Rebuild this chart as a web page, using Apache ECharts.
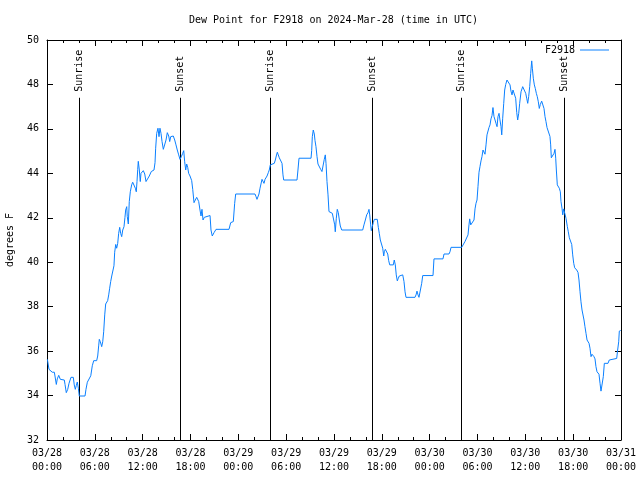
<!DOCTYPE html>
<html>
<head>
<meta charset="utf-8">
<script src="https://cdn.jsdelivr.net/npm/echarts@6/dist/echarts.min.js"></script>
<style>html,body{margin:0;padding:0;background:#fff}#c{width:640px;height:480px}</style>
</head>
<body>
<div id="c"></div>
<script>
// hours since 2024-03-28 00:00 UTC, dew point (F)
const dewPoint = [
[0.05,35.63],[0.16,35.63],[0.25,35.18],[0.44,35.12],[0.66,35.05],[0.92,35.05],[1.0,34.88],[1.17,34.5],[1.29,34.75],[1.47,34.91],[1.67,34.73],[1.84,34.7],[2.17,34.7],[2.26,34.5],[2.42,34.13],[2.6,34.28],[2.76,34.55],[3.01,34.82],[3.3,34.82],[3.42,34.48],[3.55,34.28],[3.68,34.46],[3.8,34.61],[3.93,34.33],[4.05,33.98],[4.77,33.98],[4.89,34.28],[5.06,34.6],[5.31,34.62],[5.49,34.89],[5.68,35.34],[5.86,35.57],[6.23,35.57],[6.36,35.78],[6.49,36.27],[6.56,36.53],[6.69,36.42],[6.86,36.2],[6.99,36.42],[7.11,36.87],[7.24,37.63],[7.36,38.12],[7.61,38.27],[7.74,38.53],[7.86,38.83],[7.99,39.13],[8.12,39.38],[8.28,39.43],[8.40,39.84],[8.49,40.45],[8.62,40.8],[8.74,40.63],[8.87,40.85],[8.99,41.3],[9.12,41.57],[9.24,41.3],[9.37,41.15],[9.50,41.45],[9.66,41.6],[9.78,42.02],[9.87,42.35],[10.0,42.5],[10.07,42.05],[10.2,41.72],[10.32,42.73],[10.45,43.17],[10.62,43.48],[10.75,43.6],[10.95,43.6],[11.08,43.33],[11.2,43.17],[11.29,43.63],[11.38,44.18],[11.45,44.54],[11.58,44.15],[11.7,43.63],[11.79,44.0],[12.08,44.12],[12.26,43.97],[12.42,43.63],[12.67,43.63],[12.83,43.88],[13.08,44.08],[13.42,44.15],[13.55,44.48],[13.63,45.13],[13.76,45.8],[13.92,46.03],[14.05,45.65],[14.17,46.03],[14.3,45.8],[14.43,45.43],[14.59,45.08],[14.8,45.08],[14.93,45.5],[15.09,45.83],[15.27,45.68],[15.39,45.43],[15.52,45.65],[15.68,45.72],[15.84,45.68],[16.02,45.5],[16.18,45.28],[16.34,45.05],[16.52,44.83],[16.68,44.63],[16.85,44.75],[17.02,44.9],[17.15,45.02],[17.27,44.52],[17.4,44.15],[17.52,44.42],[17.65,44.27],[17.77,44.0],[17.94,43.88],[18.15,43.67],[18.28,43.28],[18.44,42.68],[18.6,42.8],[18.78,42.92],[18.9,42.98],[19.03,42.73],[19.19,42.35],[19.32,42.08],[19.44,42.38],[19.57,41.9],[19.73,42.02],[19.91,42.1],[20.45,42.1],[20.57,41.45],[20.73,41.18],[20.95,41.33],[21.2,41.48],[22.83,41.48],[23.04,41.78],[23.37,41.83],[23.54,42.65],[23.67,43.07],[26.09,43.07],[26.22,42.95],[26.34,42.83],[26.47,42.74],[26.59,43.07],[26.72,43.33],[26.84,43.25],[26.97,43.73],[27.09,43.78],[27.22,43.55],[27.35,43.73],[27.47,43.67],[27.6,43.88],[27.76,44.03],[27.88,44.15],[28.01,44.38],[28.22,44.45],[28.51,44.45],[28.64,44.6],[28.76,44.78],[28.89,44.95],[29.01,44.83],[29.14,44.7],[29.35,44.7],[29.48,44.45],[29.6,43.93],[29.69,43.7],[31.36,43.7],[31.48,44.15],[31.61,44.68],[33.12,44.68],[33.2,45.02],[33.28,45.65],[33.4,45.95],[33.53,45.77],[33.62,45.47],[33.74,45.2],[33.87,44.75],[33.99,44.42],[34.16,44.38],[34.33,44.18],[34.49,44.08],[34.66,44.12],[34.78,44.63],[34.91,44.83],[35.0,44.45],[35.12,43.63],[35.25,43.03],[35.37,42.28],[35.62,42.23],[35.79,42.2],[36.0,42.13],[36.09,41.68],[36.16,41.37],[36.29,41.98],[36.41,42.38],[36.54,42.23],[36.67,41.9],[36.79,41.63],[36.97,41.45],[39.6,41.45],[39.76,41.68],[39.93,41.9],[40.1,42.13],[40.26,42.23],[40.39,42.38],[40.48,42.13],[40.6,41.68],[40.68,41.42],[40.8,41.6],[40.93,41.78],[41.06,41.93],[41.27,41.98],[41.43,41.93],[41.56,41.57],[41.68,41.3],[41.81,41.0],[41.98,40.97],[42.11,40.63],[42.24,40.28],[42.31,40.47],[42.44,40.58],[42.61,40.58],[42.74,40.37],[42.86,40.07],[42.99,39.88],[43.44,39.88],[43.56,40.1],[43.69,39.88],[43.81,39.43],[43.94,39.16],[44.07,39.28],[44.19,39.38],[44.4,39.43],[44.62,39.43],[44.78,39.13],[44.91,38.67],[45.03,38.42],[46.16,38.42],[46.29,38.53],[46.41,38.7],[46.54,38.53],[46.66,38.42],[46.88,38.42],[47.0,39.05],[47.13,39.4],[48.42,39.4],[48.54,40.15],[49.67,40.15],[49.8,40.37],[50.42,40.37],[50.55,40.47],[50.68,40.67],[52.02,40.67],[52.22,40.74],[52.43,40.93],[52.68,40.96],[52.81,41.23],[52.93,41.68],[53.02,41.95],[53.15,41.68],[53.4,41.68],[53.56,41.9],[53.69,42.4],[53.81,42.65],[53.94,42.8],[54.06,43.4],[54.19,44.05],[54.31,44.3],[54.44,44.56],[54.56,44.75],[54.69,45.05],[54.81,44.98],[54.94,44.86],[55.07,45.28],[55.19,45.73],[55.32,45.8],[55.44,46.06],[55.57,46.18],[55.69,46.45],[55.82,46.6],[55.94,46.96],[56.07,46.55],[56.2,46.4],[56.32,46.25],[56.45,46.1],[56.57,46.55],[56.7,46.7],[56.82,46.4],[56.95,46.1],[57.04,45.73],[57.16,46.48],[57.29,47.15],[57.41,47.75],[57.54,48.0],[57.7,48.2],[57.95,48.23],[58.08,47.98],[58.2,47.7],[58.33,47.53],[58.45,47.75],[58.67,47.75],[58.79,47.38],[58.92,46.74],[59.04,46.4],[59.17,46.7],[59.29,47.15],[59.46,47.67],[59.67,47.9],[59.87,47.82],[60.05,47.6],[60.17,47.38],[60.3,47.15],[60.42,47.45],[60.55,47.9],[60.67,48.5],[60.8,49.06],[60.88,48.73],[61.0,48.28],[61.13,47.98],[61.25,47.82],[61.38,47.6],[61.5,47.45],[61.63,47.22],[61.75,46.92],[61.88,47.1],[62.05,47.25],[62.25,47.25],[62.34,46.92],[62.47,46.55],[62.59,46.33],[62.72,46.06],[62.97,46.06],[63.09,45.66],[63.18,45.28],[63.26,44.7],[63.51,44.7],[63.6,44.9],[63.72,45.08],[63.81,44.68],[63.89,44.15],[64.01,43.48],[64.14,43.4],[64.26,43.33],[64.39,43.17],[64.47,42.73],[64.6,42.43],[64.69,42.13],[64.81,42.4],[64.98,42.35],[65.1,41.98],[65.27,41.6],[65.39,41.37],[65.52,41.1],[65.69,41.05],[65.82,40.8],[65.94,40.33],[66.07,39.95],[66.19,39.75],[66.44,39.65],[66.61,39.54],[66.73,39.2],[66.86,38.67],[66.98,38.22],[67.11,37.85],[67.23,37.77],[67.36,37.4],[67.48,37.1],[67.61,36.8],[67.74,36.5],[67.86,36.57],[67.99,36.35],[68.11,36.13],[68.24,35.75],[68.36,35.86],[68.49,35.9],[68.61,35.75],[68.74,35.65],[68.86,35.3],[68.99,35.07],[69.11,35.15],[69.24,34.96],[69.37,34.55],[69.49,34.2],[69.7,34.2],[69.78,34.85],[69.91,35.45],[70.12,35.45],[70.37,35.45],[70.53,35.6],[70.71,35.67],[71.46,35.67],[71.58,36.05],[71.71,36.42],[71.79,36.9],[71.96,36.93]
];
const sunHours = [4.01, 16.68, 27.97, 40.77, 51.93, 64.85];
const sunLabels = ['Sunrise', 'Sunset', 'Sunrise', 'Sunset', 'Sunrise', 'Sunset'];
const sunLineTop = 47.4;
const xTickLabels = ['03/28\n00:00','03/28\n06:00','03/28\n12:00','03/28\n18:00','03/29\n00:00','03/29\n06:00','03/29\n12:00','03/29\n18:00','03/30\n00:00','03/30\n06:00','03/30\n12:00','03/30\n18:00','03/31\n00:00'];
const seriesName = 'F2918';
const titleText = 'Dew Point for F2918 on 2024-Mar-28 (time in UTC)';
const yName = 'degrees F';

const FONT = '"DejaVu Sans Mono", "Liberation Mono", monospace';
const chart = echarts.init(document.getElementById('c'), null, {renderer: 'canvas'});

const xBase = {
  type: 'value', min: 0, max: 72, interval: 6,
  axisLine: {show: true, onZero: false, lineStyle: {color: '#000', width: 1}},
  axisTick: {show: true, inside: true, length: 6, lineStyle: {color: '#000'}},
  minorTick: {show: true, splitNumber: 3, length: 3, lineStyle: {color: '#000'}},
  splitLine: {show: false}
};
const yBase = {
  type: 'value', min: 32, max: 50, interval: 2,
  axisLine: {show: true, onZero: false, lineStyle: {color: '#000', width: 1}},
  axisTick: {show: true, inside: true, length: 6, lineStyle: {color: '#000'}},
  splitLine: {show: false}
};

chart.setOption({
  animation: false,
  backgroundColor: '#fff',
  title: {
    text: titleText, left: 184, top: 10,
    textStyle: {fontFamily: FONT, fontSize: 10, fontWeight: 'normal', color: '#000'}
  },
  grid: {left: 47, right: 19, top: 40, bottom: 40, containLabel: false, outerBoundsMode: 'none'},
  legend: {
    data: [seriesName], right: 26, top: 40, align: 'right',
    icon: 'rect', itemWidth: 29, itemHeight: 1,
    textStyle: {fontFamily: FONT, fontSize: 10, color: '#000'}
  },
  xAxis: [
    Object.assign({}, xBase, {
      position: 'bottom',
      axisLabel: {
        fontFamily: FONT, fontSize: 10, color: '#000', lineHeight: 14, margin: 6,
        formatter: v => xTickLabels[Math.round(v / 6)]
      }
    }),
    Object.assign({}, xBase, {position: 'top', axisLabel: {show: false}})
  ],
  yAxis: [
    Object.assign({}, yBase, {
      position: 'left',
      name: yName, nameLocation: 'middle', nameRotate: 90, nameGap: 32,
      nameTextStyle: {fontFamily: FONT, fontSize: 10, color: '#000'},
      axisLabel: {fontFamily: FONT, fontSize: 10, color: '#000', margin: 8}
    }),
    Object.assign({}, yBase, {position: 'right', axisLabel: {show: false}})
  ],
  series: [
    {
      name: seriesName, type: 'line', data: dewPoint,
      xAxisIndex: 0, yAxisIndex: 0,
      showSymbol: false, symbol: 'none',
      lineStyle: {color: '#0a80ff', width: 1},
      itemStyle: {color: '#0a80ff'},
      z: 3
    },
    {
      type: 'custom', xAxisIndex: 0, yAxisIndex: 0,
      data: sunHours.map(h => [h, 32]),
      encode: {x: 0, y: 1},
      silent: true, z: 2,
      renderItem: function (params, api) {
        const h = api.value(0);
        const p0 = api.coord([h, 32]);
        const p1 = api.coord([h, sunLineTop]);
        const x = Math.round(p0[0]) + 0.5;
        return {
          type: 'group',
          children: [
            {type: 'line', shape: {x1: x, y1: p0[1], x2: x, y2: p1[1]},
             style: {stroke: '#000', lineWidth: 1}},
            {type: 'text', x: x, y: p1[1] - 6, rotation: Math.PI / 2,
             style: {text: sunLabels[params.dataIndex], font: '10px ' + FONT,
                     fill: '#000', align: 'left', verticalAlign: 'middle'}}
          ]
        };
      }
    }
  ]
});
</script>
</body>
</html>
